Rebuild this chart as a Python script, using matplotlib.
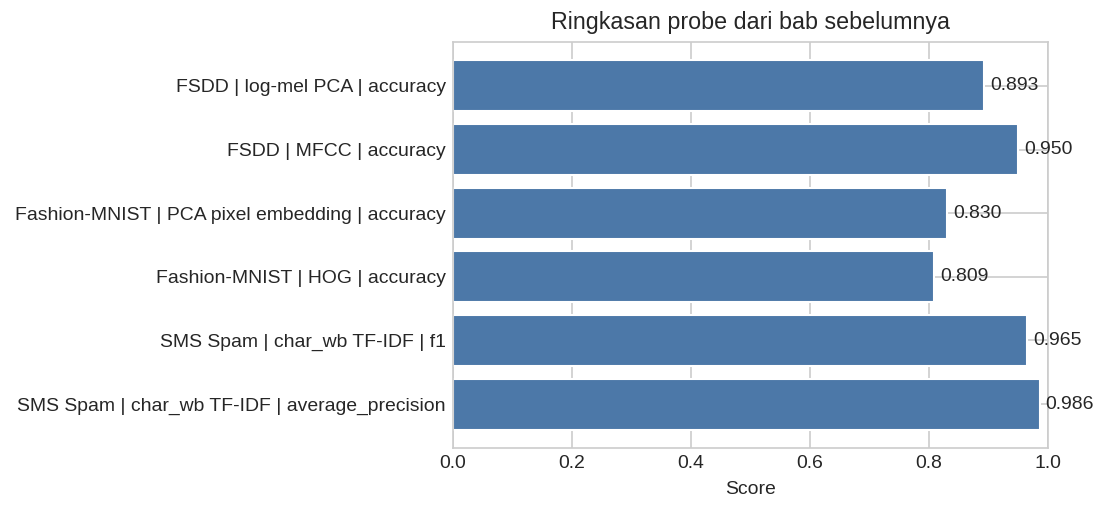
import matplotlib
matplotlib.use("Agg")
import matplotlib.pyplot as plt
import seaborn as sns

sns.set_style("whitegrid")
plt.rcParams['font.family'] = ['Liberation Sans', 'DejaVu Sans']

labels = [
    "SMS Spam | char_wb TF-IDF | average_precision",
    "SMS Spam | char_wb TF-IDF | f1",
    "Fashion-MNIST | HOG | accuracy",
    "Fashion-MNIST | PCA pixel embedding | accuracy",
    "FSDD | MFCC | accuracy",
    "FSDD | log-mel PCA | accuracy",
]
scores = [0.986, 0.965, 0.809, 0.830, 0.950, 0.893]

fig = plt.figure(figsize=(1108/150, 514/150), dpi=150)
ax = fig.add_axes([453/1108, 1-448/514, (1048-453)/1108, (448-42)/514])
y = range(len(labels))
ax.barh(y, scores, color="#4c78a8", height=0.8)
ax.set_yticks(list(y))
ax.set_yticklabels(labels, fontsize=9.3)
ax.set_xlim(0, 1.0)
ax.set_xlabel("Score", fontsize=9.3, labelpad=4)
ax.set_title("Ringkasan probe dari bab sebelumnya", fontsize=11.2)
ax.tick_params(axis='both', length=0, labelsize=9.3, pad=3.5)
for yi, s in zip(y, scores):
    ax.text(s + 0.01, yi, f"{s:.3f}", va="center", ha="left", fontsize=9.3, color="#262626")
fig.savefig("out.png", dpi=150)
